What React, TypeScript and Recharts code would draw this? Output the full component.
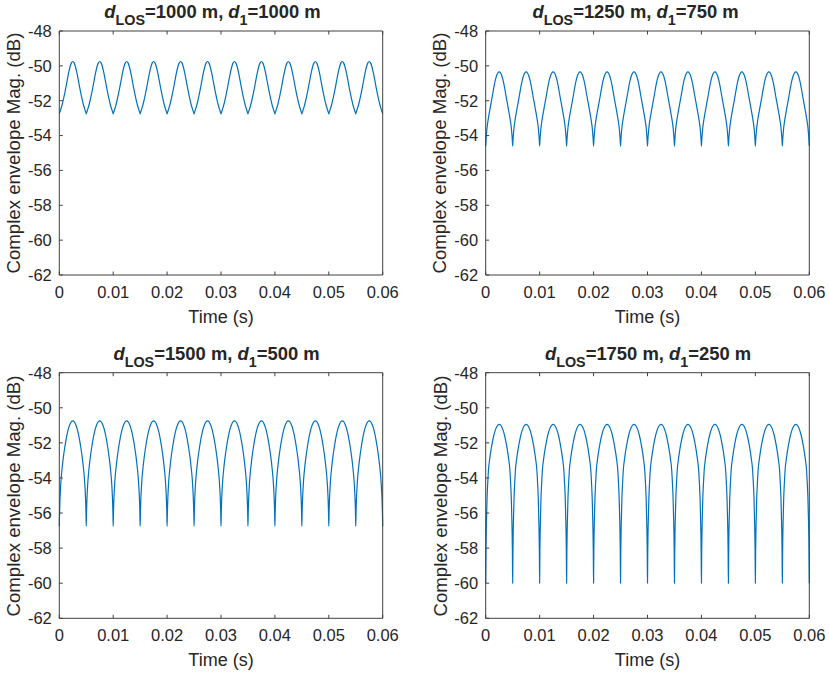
import { LineChart, Line, XAxis, YAxis } from 'recharts';

// one period (5 ms) of each trace; every panel repeats it 12 times
const PERIOD_STARTS = [0, 0.005, 0.01, 0.015, 0.02, 0.025, 0.03, 0.035, 0.04, 0.045, 0.05, 0.055];
const END_TIME = 0.06;
const PHASE_OFFSETS = [
  0, 0.00005, 0.0001, 0.00015, 0.00025, 0.000375, 0.0005, 0.00075, 0.001, 0.00125, 0.0015, 0.00175, 0.002, 0.00225,
  0.0025, 0.00275, 0.003, 0.00325, 0.0035, 0.00375, 0.004, 0.00425, 0.0045, 0.004625, 0.00475, 0.00485, 0.0049, 0.00495,
];

const MAG_1000_1000 = [
  -52.75, -52.7, -52.65, -52.61, -52.51, -52.39, -52.26, -51.94, -51.58, -51.19, -50.77, -50.38, -50.05, -49.83,
  -49.75, -49.83, -50.05, -50.38, -50.77, -51.19, -51.58, -51.94, -52.26, -52.39, -52.51, -52.61, -52.65, -52.7,
];
const MAG_1250_750 = [
  -54.6, -54.35, -54.1, -53.9, -53.55, -53.25, -53.0, -52.55, -52.12, -51.7, -51.25, -50.86, -50.58, -50.41,
  -50.35, -50.41, -50.58, -50.86, -51.25, -51.7, -52.12, -52.55, -53.0, -53.25, -53.55, -53.9, -54.1, -54.35,
];
const MAG_1500_500 = [
  -56.75, -56.0, -55.45, -55.05, -54.45, -53.9, -53.5, -52.83, -52.28, -51.81, -51.43, -51.13, -50.92, -50.79,
  -50.75, -50.79, -50.92, -51.13, -51.43, -51.81, -52.28, -52.83, -53.5, -53.9, -54.45, -55.05, -55.45, -56.0,
];
const MAG_1750_250 = [
  -60.0, -58.2, -57.1, -56.4, -55.2, -54.3, -53.6, -52.9, -52.37, -51.94, -51.58, -51.3, -51.11, -50.99,
  -50.95, -50.99, -51.11, -51.3, -51.58, -51.94, -52.37, -52.9, -53.6, -54.3, -55.2, -56.4, -57.1, -58.2,
];

const X_TICKS = [0, 0.01, 0.02, 0.03, 0.04, 0.05, 0.06];
const X_TICK_LABELS = ['0', '0.01', '0.02', '0.03', '0.04', '0.05', '0.06'];
const Y_TICKS = [-62, -60, -58, -56, -54, -52, -50, -48];
const Y_TICK_LABELS = ['-62', '-60', '-58', '-56', '-54', '-52', '-50', '-48'];

const D_LOS = ['1000', '1250', '1500', '1750'];
const D_1 = ['1000', '750', '500', '250'];
const SERIES_KEYS = ['a', 'b', 'c', 'd'];

const rows: Record<string, number>[] = [];
PERIOD_STARTS.forEach((start) => {
  PHASE_OFFSETS.forEach((off, i) => {
    rows.push({ t: start + off, a: MAG_1000_1000[i], b: MAG_1250_750[i], c: MAG_1500_500[i], d: MAG_1750_250[i] });
  });
});
rows.push({ t: END_TIME, a: MAG_1000_1000[0], b: MAG_1250_750[0], c: MAG_1500_500[0], d: MAG_1750_250[0] });

const FONT = '"Liberation Sans", Arial, Helvetica, sans-serif';
const INK = '#262626';
const AXIS = '#404040';
const BLUE = '#0072BD';

// plot boxes in page pixels: [left, top, right, bottom]
const BOXES = [
  [59.3, 31, 382.7, 275],
  [485.7, 31, 809.3, 275],
  [59.3, 372.7, 382.7, 618.3],
  [485.7, 372.7, 809.3, 618.3],
];
const PANEL_ORIGIN = [
  [0, 0],
  [415, 0],
  [0, 337],
  [415, 337],
];
// titles are not quite centred over the axes in the original
const TITLE_CX = [212.5, 635.5, 216.5, 648];
const PANEL_W = 414;
const PANEL_H = 338;
const Y_AXIS_W = 40;
const X_AXIS_H = 20;
const BOX_AXIS = 1;

const xFmt = (v: number) => X_TICK_LABELS[X_TICKS.indexOf(v)] ?? '';
const yFmt = (v: number) => Y_TICK_LABELS[Y_TICKS.indexOf(v)] ?? '';
const blank = () => '';

function Panel({ idx }: { idx: number }) {
  const [l, t, r, b] = BOXES[idx];
  const [ox, oy] = PANEL_ORIGIN[idx];
  const plotW = r - l;
  const plotH = b - t;
  const cy = (t + b) / 2;
  const labelX = idx % 2 === 0 ? 13.6 : 440.4;
  const tickStyle = { fontSize: 16.5, fill: INK, fontFamily: FONT };

  return (
    <>
      <div style={{ position: 'absolute', left: ox, top: oy }}>
        <LineChart
          width={PANEL_W}
          height={PANEL_H}
          data={rows}
          margin={{
            left: l - ox - Y_AXIS_W,
            top: t - oy - BOX_AXIS,
            right: ox + PANEL_W - r - BOX_AXIS,
            bottom: oy + PANEL_H - b - X_AXIS_H,
          }}
        >
          <XAxis
            xAxisId="b"
            dataKey="t"
            type="number"
            domain={[0, 0.06]}
            ticks={X_TICKS}
            interval={0}
            height={X_AXIS_H}
            tickFormatter={xFmt}
            tickSize={-3.5}
            tickMargin={14.5}
            tick={tickStyle}
            stroke={AXIS}
          />
          <XAxis
            xAxisId="t"
            orientation="top"
            dataKey="t"
            type="number"
            domain={[0, 0.06]}
            ticks={X_TICKS}
            interval={0}
            height={BOX_AXIS}
            tickFormatter={blank}
            tickSize={-3.5}
            stroke={AXIS}
          />
          <YAxis
            yAxisId="l"
            type="number"
            domain={[-62, -48]}
            ticks={Y_TICKS}
            interval={0}
            width={Y_AXIS_W}
            tickFormatter={yFmt}
            tickSize={-3.5}
            tickMargin={11}
            tick={tickStyle}
            stroke={AXIS}
          />
          <YAxis
            yAxisId="r"
            orientation="right"
            type="number"
            domain={[-62, -48]}
            ticks={Y_TICKS}
            interval={0}
            width={BOX_AXIS}
            tickFormatter={blank}
            tickSize={-3.5}
            stroke={AXIS}
          />
          <Line
            xAxisId="b"
            yAxisId="l"
            type="monotone"
            dataKey={SERIES_KEYS[idx]}
            stroke={BLUE}
            strokeWidth={1.2}
            dot={false}
            activeDot={false}
            isAnimationActive={false}
          />
        </LineChart>
      </div>
      <div
        style={{
          position: 'absolute',
          left: TITLE_CX[idx] - 160,
          width: 320,
          top: t - 28.2,
          lineHeight: '18px',
          fontSize: 18.4,
          fontWeight: 'bold',
          textAlign: 'center',
          color: INK,
          whiteSpace: 'nowrap',
        }}
      >
        <i>d</i>
        <span style={{ fontSize: '0.78em', position: 'relative', top: 7 }}>LOS</span>={D_LOS[idx]} m, <i>d</i>
        <span style={{ fontSize: '0.78em', position: 'relative', top: 7 }}>1</span>={D_1[idx]} m
      </div>
      <div
        style={{
          position: 'absolute',
          left: l,
          width: plotW,
          top: b + 32.7,
          lineHeight: '18px',
          fontSize: 18,
          textAlign: 'center',
          color: INK,
        }}
      >
        Time (s)
      </div>
      <div
        style={{
          position: 'absolute',
          left: labelX - plotH / 2 - 40,
          top: cy - 9,
          width: plotH + 80,
          lineHeight: '18px',
          fontSize: 18.6,
          textAlign: 'center',
          color: INK,
          transform: 'rotate(-90deg)',
          whiteSpace: 'nowrap',
        }}
      >
        Complex envelope Mag. (dB)
      </div>
    </>
  );
}

export default function App() {
  return (
    <div
      style={{
        position: 'absolute',
        left: 0,
        top: 0,
        width: 829,
        height: 675,
        background: '#fff',
        fontFamily: FONT,
        overflow: 'hidden',
      }}
    >
      {[0, 1, 2, 3].map((i) => (
        <Panel key={i} idx={i} />
      ))}
    </div>
  );
}
